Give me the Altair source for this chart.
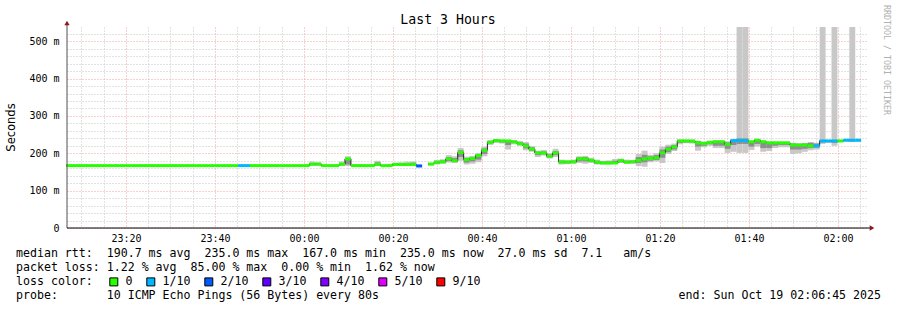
import altair as alt
import pandas as pd

MONO = "DejaVu Sans Mono"
SANS = "DejaVu Sans"

# ---- time frame -------------------------------------------------------
FIRST_STEP = "2025-10-18T23:06:33Z"   # start of first 80 s consolidation step
STEP_SECONDS = 80
VIEW_START = "2025-10-18T23:06:45Z"
VIEW_END = "2025-10-19T02:06:45Z"

# ---- median rtt (ms) per 80 s step ------------------------------------
median = [167] * 41 + [
    171, 171, 167, 167, 167, 171, 185, 167, 167, 167,          # 41-50
    167, 170, 167, 167, 170, 170, 170, 170, 166, None,         # 51-60
    171, 176, 177, 185, 180, 202, 183, 186, 194, 208,          # 61-70
    229, 234, 233, 233, 231, 226, 220, 211, 201, 201,          # 71-80
    192, 201, 177, 177, 177, 185, 185, 181, 176, 174,          # 81-90
    174, 174, 180, 176, 177, 181, 185, 186, 188, 201,          # 91-100
    211, 217, 233, 233, 233, 228, 226, 229, 231, 231,          # 101-110
    224, 234, 234, 234, 231, 235, 231, 228, 228, 228,          # 111-120
    228, 222, 222, 222, 220, 220, 233, 233, 233, 233,          # 121-130
    235, 235, 235,                                             # 131-133
]

# ---- packet loss class per step ---------------------------------------
loss = (["0"] * 29 + ["1/10"] * 2 + ["0"] * 28 + ["2/10"] + ["0"]
        + ["0"] * 51 + ["1/10"] * 3 + ["0"] * 11 + ["1/10"] * 4
        + ["0"] + ["1/10"] * 3)

# ---- smoke: outer (all pings) and inner (core) ranges, ms --------------
smoke_lo = [None] * 41 + [
    167, 167, None, None, None, 166, 166, 166, 166, None,
    166, 166, None, 166, 166, 166, 166, 166, 165, None,
    168, 170, 172, 175, 174, 180, 170, 172, 176, 192,
    222, 228, 226, 210, 224, 220, 208, 204, 190, 194,
    186, 190, 170, 171, 172, 174, 172, 174, 170, 170,
    170, 172, 174, 172, 172, 166, 164, 176, 178, 174,
    198, 206, 224, 227, 226, 207, 216, 220, 214, 214,
    201, 204, 201, 201, 209, 218, 204, 206, 214, 216,
    216, 198, 200, 204, 208, 210, 225, 228, 220, 230,
    231, 230, 231,
]
smoke_hi = [None] * 41 + [
    178, 176, None, None, None, 178, 192, 170, 171, None,
    170, 180, None, 172, 175, 176, 178, 178, 170, None,
    175, 182, 184, 195, 192, 214, 191, 193, 201, 218,
    236, 238, 237, 236, 235, 233, 230, 219, 207, 209,
    201, 212, 183, 181, 183, 192, 193, 188, 183, 180,
    181, 185, 186, 183, 182, 198, 207, 196, 200, 218,
    223, 226, 237, 237, 236, 234, 232, 234, 234, 233,
    232, 238, 538, 538, 233, 237, 233, 231, 231, 231,
    231, 228, 227, 228, 230, 228, 538, 236, 538, 236,
    236, 538, 236,
]
core_lo = [None] * 41 + [
    168, 168, None, None, None, 168, 170, None, None, None,
    None, 168, None, None, 168, 168, 168, 168, None, None,
    169, 172, 174, 179, 177, 190, 175, 178, 183, 198,
    226, 230, 229, 222, 227, 222, 213, 207, 195, 197,
    189, 195, 173, 173, 174, 178, 178, 177, 172, 172,
    172, 173, 176, 174, 174, 174, 176, 180, 182, 188,
    203, 210, 228, 229, 229, 218, 220, 224, 220, 220,
    212, 222, 225, 225, 218, 225, 214, 214, 220, 222,
    222, 210, 210, 212, 214, 215, 229, 230, 228, 231,
    None, 232, None,
]
core_hi = [None] * 41 + [
    174, 173, None, None, None, 174, 186, None, None, None,
    None, 176, None, None, 172, 173, 174, 175, None, None,
    173, 179, 181, 190, 187, 208, 187, 190, 197, 213,
    233, 236, 235, 234, 233, 230, 226, 216, 204, 205,
    197, 206, 180, 179, 180, 189, 190, 185, 180, 178,
    178, 180, 183, 180, 180, 190, 196, 192, 195, 210,
    218, 222, 235, 235, 235, 232, 230, 232, 232, 231,
    229, 236, 240, 240, 232, 236, 232, 230, 230, 230,
    230, 226, 225, 226, 228, 226, 236, 235, 236, 235,
    None, 237, None,
]

loss_classes = ["0", "1/10", "2/10", "3/10", "4/10", "5/10", "9/10"]
loss_colors = ["#26ff00", "#00b8ff", "#0059ff", "#5e00ff", "#7e00ff", "#dd00ff", "#ff0000"]

stats_rtt = "median rtt:  190.7 ms avg  235.0 ms max  167.0 ms min  235.0 ms now  27.0 ms sd  7.1   am/s"
stats_loss = "packet loss: 1.22 % avg  85.00 % max  0.00 % min  1.62 % now"
loss_title = "loss color:"
probe_text = "probe:       10 ICMP Echo Pings (56 Bytes) every 80s"
end_text = "end: Sun Oct 19 02:06:45 2025"
title_text = "Last 3 Hours"
watermark = "RRDTOOL / TOBI OETIKER"

n = len(median)
assert all(len(a) == n for a in (loss, smoke_lo, smoke_hi, core_lo, core_hi)), "length mismatch"

starts = pd.date_range(FIRST_STEP, periods=n, freq=f"{STEP_SECONDS}s")
ends = starts + pd.Timedelta(seconds=STEP_SECONDS)
df = pd.DataFrame({
    "t": starts.strftime("%Y-%m-%dT%H:%M:%SZ"),
    "t2": ends.strftime("%Y-%m-%dT%H:%M:%SZ"),
    "med": pd.array(median, dtype="Float64").astype(float),
    "loss": loss,
    "olo": pd.array(smoke_lo, dtype="Float64").astype(float),
    "ohi": pd.array(smoke_hi, dtype="Float64").astype(float),
    "ilo": pd.array(core_lo, dtype="Float64").astype(float),
    "ihi": pd.array(core_hi, dtype="Float64").astype(float),
})

def ms(ts):
    return int(pd.Timestamp(ts).value // 10**6)

x_domain = [ms(VIEW_START), ms(VIEW_END)]
tick_times = pd.date_range("2025-10-18T23:10:00Z", "2025-10-19T02:05:00Z", freq="5min")
x_ticks = [int(t.value // 10**6) for t in tick_times]
y_ticks = list(range(0, 540, 20))

MAJOR = "#f0a0a0"
MINOR = "#c4c4c4"

xscale = alt.Scale(type="utc", domain=x_domain, nice=False)
yscale = alt.Scale(domain=[0, 538], nice=False, zero=True)

xaxis = alt.Axis(
    values=x_ticks, title=None, domain=False, ticks=False,
    labelExpr="utcminutes(datum.value) % 20 === 0 ? utcFormat(datum.value, '%H:%M') : ''",
    labelFont=MONO, labelFontSize=10, labelColor="#000000", labelPadding=5,
    labelOverlap=False, labelFlush=False,
    grid=True, gridDash=[1, 2], gridWidth=1, gridOpacity=1,
    gridColor={"condition": {"test": "utcminutes(datum.value) % 20 === 0", "value": MAJOR}, "value": MINOR},
)
yaxis = alt.Axis(
    values=y_ticks, title="Seconds", domain=False, ticks=False,
    labelExpr="datum.value % 100 === 0 ? (datum.value === 0 ? '0' : datum.value + ' m') : ''",
    labelFont=MONO, labelFontSize=10, labelColor="#000000", labelPadding=8,
    labelOverlap=False, labelFlush=False,
    grid=True, gridDash=[1, 2], gridWidth=1, gridOpacity=1,
    gridColor={"condition": {"test": "datum.value % 100 === 0", "value": MAJOR}, "value": MINOR},
    titleFont=SANS, titleFontSize=11.5, titleFontWeight="normal", titleColor="#000000",
    titleX=-56, titleY=100, titleAngle=270, titleAlign="center", titleBaseline="middle",
)

X = alt.X("t:T", scale=xscale, axis=xaxis)
X2 = alt.X2("t2:T")

base = alt.Chart(df)

outer = base.mark_rect(color="#c8c8c8", clip=True).encode(
    x=X, x2=X2, y=alt.Y("olo:Q", scale=yscale, axis=yaxis), y2="ohi:Q")
inner = base.mark_rect(color="#8e8e8e", clip=True).encode(
    x=X, x2=X2, y=alt.Y("ilo:Q", scale=yscale, axis=yaxis), y2="ihi:Q")
stepline = base.mark_line(interpolate="step-after", color="#202020", strokeWidth=1,
                          invalid="break-paths-filter-domains").encode(
    x=X, y=alt.Y("med:Q", scale=yscale, axis=yaxis))
segments = base.transform_filter("isValid(datum.med)").transform_calculate(
    m_lo="datum.med - 4", m_hi="datum.med + 4"
).mark_rect().encode(
    x=X, x2=X2,
    y=alt.Y("m_lo:Q", scale=yscale, axis=yaxis), y2="m_hi:Q",
    color=alt.Color("loss:N", scale=alt.Scale(domain=loss_classes, range=loss_colors),
                    legend=alt.Legend(
                        title=None, orient="none", legendX=41, legendY=249,
                        direction="horizontal", columns=7,
                        labelFont=MONO, labelFontSize=11.6, labelColor="#000000",
                        labelOffset=6, columnPadding=11, padding=0,
                        symbolType="square", symbolSize=64, symbolStrokeColor="#000000",
                        symbolStrokeWidth=1, symbolOpacity=1)),
)

one = alt.Data(values=[{}])
NBSP = "\u00a0"

def text(txt, x, y, size=11.6, color="#000000", angle=0, align="left", font=MONO):
    return alt.Chart(one).mark_text(
        text=txt.replace(" ", NBSP), align=align, baseline="middle", font=font, fontSize=size,
        color=color, angle=angle).encode(x=alt.value(x), y=alt.value(y))

yline = alt.Chart(one).mark_rule(color="#505050", strokeWidth=1).encode(
    x=alt.value(0), y=alt.value(-4), y2=alt.value(201))
xline = alt.Chart(one).mark_rule(color="#000000", strokeWidth=1).encode(
    x=alt.value(0), x2=alt.value(803), y=alt.value(201))
yarrow = alt.Chart(one).mark_point(shape="triangle-up", filled=True, color="#8b1a1a",
                                   size=28, opacity=1).encode(x=alt.value(0), y=alt.value(-4))
xarrow = alt.Chart(one).mark_point(shape="triangle-right", filled=True, color="#8b1a1a",
                                   size=28, opacity=1).encode(x=alt.value(805), y=alt.value(201))

chart = alt.layer(
    outer, inner, stepline, segments,
    yline, xline, yarrow, xarrow,
    text(title_text, 381, -7, size=13.2, align="center"),
    text(watermark, 819, 33, size=8.3, color="#b0b0b0", angle=90, align="center"),
    text(stats_rtt, -51, 227),
    text(stats_loss, -51, 241),
    text(loss_title, -51, 255),
    text(probe_text, -51, 269),
    text(end_text, 814, 269, align="right"),
).properties(
    width=801, height=201,
    autosize=alt.AutoSizeParams(type="none"),
    padding={"left": 67, "top": 27, "right": 29, "bottom": 82},
    background="#ffffff",
).configure_view(stroke=None)

chart.save("out.html", embed_options={"renderer": "svg", "actions": False})
